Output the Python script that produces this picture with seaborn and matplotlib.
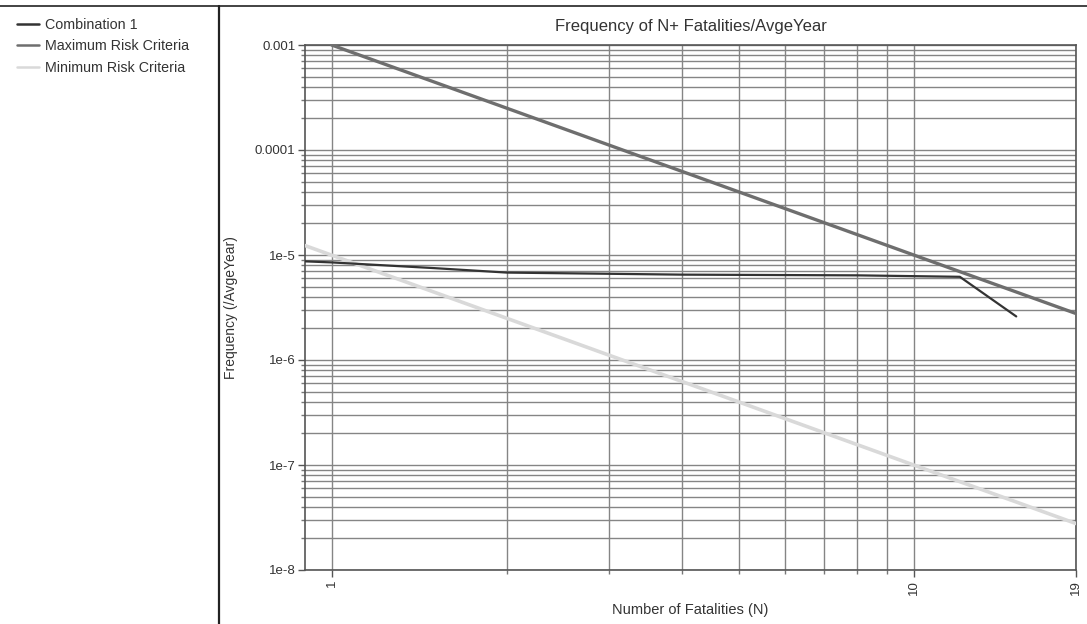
import numpy as np
import pandas as pd
import matplotlib
matplotlib.use("Agg")
import matplotlib.pyplot as plt
from matplotlib.lines import Line2D
from matplotlib.ticker import FixedLocator, NullFormatter
import seaborn as sns

# ── Data ──────────────────────────────────────────────────────
combo_n = [0.9, 1.0, 1.5, 2.0, 4.0, 8.0, 12.0, 15.0]
combo_f = [8.7e-6, 8.5e-6, 7.5e-6, 6.8e-6, 6.5e-6, 6.4e-6, 6.2e-6, 2.6e-6]

max_n = [1.0, 19.0]
max_f = [1e-3, 2.77e-6]

min_n = [0.9, 19.0]
min_f = [1.23e-5, 2.77e-8]

y_ticks = [1e-8, 1e-7, 1e-6, 1e-5, 1e-4, 1e-3]
y_labels = ["1e-8", "1e-7", "1e-6", "1e-5", "0.0001", "0.001"]
x_ticks = [1, 10, 19]
x_labels = ["1", "10", "19"]

names = ["Combination 1", "Maximum Risk Criteria", "Minimum Risk Criteria"]

df = pd.concat([
    pd.DataFrame({"N": combo_n, "F": combo_f, "series": names[0]}),
    pd.DataFrame({"N": max_n, "F": max_f, "series": names[1]}),
    pd.DataFrame({"N": min_n, "F": min_f, "series": names[2]}),
])

palette = {names[0]: "#333333", names[1]: "#6e6e6e", names[2]: "#d9d9d9"}
widths = {names[0]: 1.6, names[1]: 2.4, names[2]: 2.6}

sns.set_style("white")
plt.rcParams["font.family"] = ["Liberation Sans", "DejaVu Sans"]

fig = plt.figure(figsize=(10.87, 6.24), dpi=100)
ax = fig.add_axes([305 / 1087, 1 - 570 / 624, 771 / 1087, 525 / 624])

for name in [names[2], names[1], names[0]]:
    sub = df[df["series"] == name]
    sns.lineplot(data=sub, x="N", y="F", color=palette[name],
                 linewidth=widths[name], ax=ax, zorder=3)

ax.set_xscale("log")
ax.set_yscale("log")
ax.set_xlim(0.9, 19)
ax.set_ylim(1e-8, 1e-3)

# grid: every log minor in y, 1..10 in x
y_minor = [m * 10.0 ** e for e in range(-8, -3) for m in range(2, 10)]
ax.yaxis.set_major_locator(FixedLocator(y_ticks))
ax.yaxis.set_minor_locator(FixedLocator(y_minor))
ax.set_yticklabels(y_labels)
ax.yaxis.set_minor_formatter(NullFormatter())
ax.xaxis.set_major_locator(FixedLocator(x_ticks))
ax.xaxis.set_minor_locator(FixedLocator([2, 3, 4, 5, 6, 7, 8, 9]))
ax.set_xticklabels(x_labels, rotation=90)
ax.xaxis.set_minor_formatter(NullFormatter())

ax.grid(True, which="both", color="#858585", linewidth=1.0)
ax.tick_params(axis="both", which="major", direction="out", length=5,
               width=1, color="#555555", labelsize=9.5, labelcolor="#333333")
ax.tick_params(axis="both", which="minor", direction="out", length=3,
               width=1, color="#777777")
ax.tick_params(axis="x", which="major", pad=2)
ax.tick_params(axis="y", which="major", pad=2)
ax.tick_params(axis="y", which="both", left=True)
ax.tick_params(axis="x", which="both", bottom=True)
for side in ["left", "bottom", "right", "top"]:
    ax.spines[side].set_color("#555555")
    ax.spines[side].set_linewidth(1.2)

ax.set_title("Frequency of N+ Fatalities/AvgeYear", fontsize=12,
             color="#333333", pad=10)
ax.set_xlabel("Number of Fatalities (N)", fontsize=10.5, color="#333333",
              labelpad=6)
ax.set_ylabel("Frequency (/AvgeYear)", fontsize=10, color="#333333",
              labelpad=12)

# frame line at the top and the legend panel divider
fig.add_artist(Line2D([0, 1], [1 - 6 / 624, 1 - 6 / 624],
                      transform=fig.transFigure, color="#222222", linewidth=1.2))
fig.add_artist(Line2D([219 / 1087, 219 / 1087], [0, 1 - 6 / 624],
                      transform=fig.transFigure, color="#222222", linewidth=1.6))

handles = [Line2D([], [], color=palette[n], linewidth=1.8) for n in names]
fig.legend(handles, names,
           loc="upper left", bbox_to_anchor=(11 / 1087, 1 - 12 / 624),
           frameon=False, fontsize=10.3, handlelength=1.55,
           handletextpad=0.4, labelspacing=0.54, borderaxespad=0.0,
           borderpad=0.4, labelcolor="#333333")

fig.savefig("out.png", dpi=100)
